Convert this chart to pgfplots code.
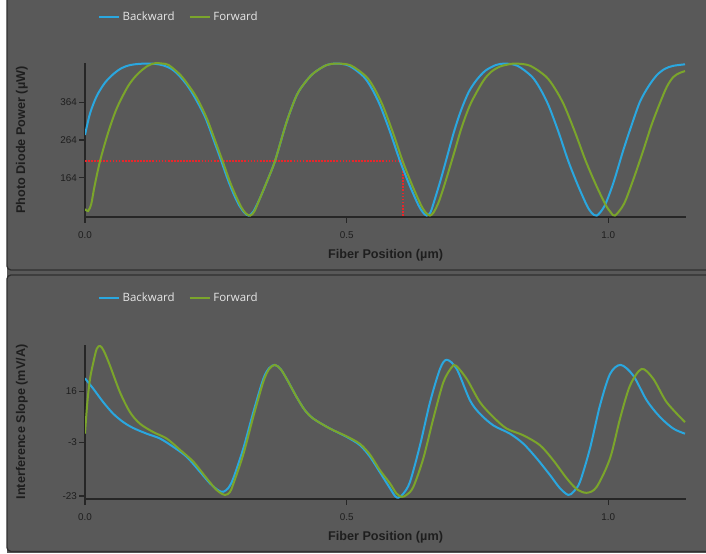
\documentclass[border=0pt]{standalone}
\usepackage{pgfplots}
\pgfplotsset{compat=1.18}
\usepackage{fontspec}
\setmainfont{Liberation Sans}
\newfontfamily\legfont{Open Sans}
\definecolor{bg}{HTML}{595959}
\definecolor{blueline}{HTML}{2AA7DF}
\definecolor{greenline}{HTML}{7BA52B}
\definecolor{redline}{HTML}{E8262B}
\definecolor{axisc}{HTML}{262626}
\definecolor{tickc}{HTML}{1E1E1E}
\definecolor{labelc}{HTML}{1E1E1E}
\definecolor{legc}{HTML}{E6E6E6}
\definecolor{borderc}{HTML}{303030}
\pgfplotsset{
  myaxis/.style={
    scale only axis, width=450.75pt, height=115.5pt,
    xmin=0, xmax=1.1485,
    axis x line=bottom, axis y line=left,
    axis line style={-, color=axisc, line width=1.1pt},
    tick align=outside, major tick length=4.5pt,
    every tick/.style={color=axisc, line width=0.9pt},
    xtick={0,0.5,1}, xticklabels={0.0,0.5,1.0},
    ticklabel style={font=\fontsize{7.4}{8}\selectfont, text=tickc},
    xticklabel style={yshift=-3pt},
    yticklabel style={xshift=2pt},
    label style={font=\fontsize{9.5}{11}\selectfont\bfseries, text=labelc},
    xlabel={Fiber Position (µm)},
    xlabel style={at={(axis description cs:0.5,-0.247)}, anchor=center},
    ylabel style={at={(axis description cs:-0.105,0.5)}, anchor=center},
    legend style={at={(axis description cs:0.0216,1.2987)}, anchor=west,
      draw=none, fill=none, inner sep=0pt, outer sep=0pt,
      font=\legfont\fontsize{8.6}{10}\selectfont, text=legc,
      /tikz/every even column/.append style={column sep=8.5pt}},
    legend columns=2,
    legend image code/.code={\draw[#1, line width=1.5pt] (0pt,0pt) -- (15pt,0pt);},
  },
  bl/.style={color=blueline, line width=1.5pt, smooth, tension=0.5},
  gr/.style={color=greenline, line width=1.5pt, smooth, tension=0.5},
}
\begin{document}
\begin{tikzpicture}[x=0.75pt,y=0.75pt]
\useasboundingbox (0,0) rectangle (706,553);
\fill[white] (0,0) rectangle (706,553);
\fill[bg] (7,0) rectangle (706,553);
\draw[borderc, line width=1pt, rounded corners=3pt] (7,553) -- (7,283) -- (706,283);
\draw[borderc, line width=1pt, rounded corners=3pt] (706,278) -- (7,278) -- (7,1.5) -- (706,1.5);

\begin{axis}[myaxis, at={(63.75pt,252pt)}, anchor=south west,
  ymin=60.2, ymax=467.5,
  ytick={164,264,364}, yticklabels={164,264,364},
  ylabel={Photo Diode Power (µW)}]
\addplot[redline, line width=1.3pt, dash pattern=on 1.3pt off 1pt, forget plot]
  coordinates {(0,208) (0.608,208) (0.608,60.2)};
\addplot[bl] coordinates {
(0,277)(0.0096,334)(0.0224,380)(0.038,415)(0.054,438)(0.07,454)(0.086,462)(0.102,465)(0.118,466)(0.135,465)(0.15,461)(0.165,452)(0.178,437)(0.195,409)(0.21,376)(0.23,323)(0.249,252)(0.26,210)(0.274,155)(0.285,118)(0.295,90)(0.305,71)(0.313,64)(0.322,75)(0.3344,110)(0.348,155)(0.363,208)(0.3854,312)(0.4045,382)(0.42,415)(0.4363,440)(0.46,461)(0.481,466)(0.505,460)(0.532,432)(0.548,400)(0.5637,356)(0.5828,286)(0.602,208)(0.62,145)(0.637,92)(0.646,72)(0.653,64)(0.66,72)(0.668,105)(0.68,160)(0.692,220)(0.705,285)(0.718,340)(0.733,390)(0.748,422)(0.765,447)(0.785,462)(0.8026,466)(0.8266,460)(0.8536,432)(0.8696,400)(0.8856,356)(0.9046,286)(0.9236,208)(0.9416,145)(0.9586,92)(0.9676,72)(0.978,64)(0.993,90)(1.0096,150)(1.0287,237)(1.045,305)(1.0605,365)(1.0765,405)(1.0925,435)(1.108,452)(1.124,460)(1.1466,464)
};
\addplot[gr] coordinates {
(0,81)(0.006,76)(0.012,95)(0.018,140)(0.0287,208)(0.0446,285)(0.0605,347)(0.0797,400)(0.092,425)(0.105,444)(0.12,460)(0.134,467)(0.148,466)(0.16,462)(0.1815,437)(0.197,410)(0.2134,376)(0.2325,322)(0.2516,251)(0.263,208)(0.277,153)(0.288,117)(0.298,88)(0.307,70)(0.316,64)(0.324,76)(0.3344,110)(0.348,155)(0.363,208)(0.3854,312)(0.4045,382)(0.42,415)(0.4363,440)(0.46,461)(0.481,466)(0.508,461)(0.537,432)(0.553,400)(0.5687,356)(0.5878,286)(0.607,208)(0.625,145)(0.642,92)(0.651,72)(0.659,64)(0.666,72)(0.676,100)(0.688,150)(0.705,228)(0.72,298)(0.737,360)(0.761,420)(0.777,445)(0.793,458)(0.81,464)(0.825,466)(0.851,460)(0.8806,432)(0.898,400)(0.9155,356)(0.936,286)(0.957,208)(0.9765,145)(0.995,92)(1.005,72)(1.0128,64)(1.03,95)(1.048,160)(1.067,237)(1.083,305)(1.0988,362)(1.112,405)(1.124,430)(1.136,441)(1.1466,446)
};
\legend{Backward, Forward}
\end{axis}

\begin{axis}[myaxis, at={(63.75pt,40.5pt)}, anchor=south west,
  ymin=-24.1, ymax=33.2,
  ytick={-23,-3,16}, yticklabels={-23,-3,16},
  ylabel={Interference Slope (mV/A)},
  legend style={at={(axis description cs:0.0216,1.305)}}]
\addplot[bl] coordinates {
(0,20.8)(0.0159,16.9)(0.035,11.9)(0.0541,7.6)(0.0732,4.5)(0.0923,2.3)(0.1179,0.2)(0.1433,-1.6)(0.1687,-4.7)(0.1943,-8.4)(0.2198,-14)(0.2389,-18.3)(0.255,-20.9)(0.2643,-21.4)(0.274,-20)(0.2834,-16.4)(0.3025,-5.3)(0.3216,8.2)(0.3407,20.6)(0.352,24.6)(0.3631,25.8)(0.374,24.2)(0.3854,20.6)(0.4045,13.8)(0.42,9)(0.4363,5.8)(0.4682,2.1)(0.5001,-1.0)(0.5255,-4.1)(0.5446,-8.4)(0.5637,-14.2)(0.5828,-20.1)(0.5925,-23)(0.5987,-23.6)(0.608,-22.2)(0.6211,-17.7)(0.6402,-4.1)(0.6593,11.9)(0.6784,24.3)(0.6912,27.7)(0.7103,24.3)(0.7357,12.6)(0.7548,7.6)(0.7802,3.3)(0.8121,0.2)(0.8376,-3.5)(0.8632,-9.0)(0.8886,-15.2)(0.9077,-20.1)(0.9236,-22.6)(0.934,-21.3)(0.9459,-17.7)(0.965,-5.3)(0.9841,10.7)(1.0033,22.4)(1.0237,25.8)(1.0478,21.8)(1.0734,12.6)(1.0988,6.4)(1.1242,2.1)(1.1466,0.2)
};
\addplot[gr] coordinates {
(0,0.2)(0.0045,11.9)(0.0096,20.6)(0.0159,26.7)(0.0223,31.7)(0.0287,32.9)(0.036,31)(0.0478,25.5)(0.0669,15.6)(0.086,8.2)(0.1051,3.9)(0.1305,0.8)(0.1561,-1.6)(0.1815,-5.8)(0.207,-10.2)(0.2325,-16.4)(0.2517,-20.8)(0.2675,-22.6)(0.277,-21.5)(0.2834,-18.5)(0.3025,-7.5)(0.3216,6.5)(0.3407,19.5)(0.352,24.3)(0.3631,25.8)(0.374,24.2)(0.3854,20.6)(0.4045,13.8)(0.42,9)(0.4363,5.8)(0.4682,2.1)(0.5001,-0.8)(0.5255,-3.6)(0.5446,-7.6)(0.5637,-13.4)(0.5828,-18.3)(0.595,-22)(0.6052,-23.3)(0.615,-22.5)(0.6274,-19.6)(0.6465,-9.0)(0.6656,5.8)(0.6847,19.3)(0.7007,24.9)(0.709,25.5)(0.7294,20.6)(0.7548,11.9)(0.7802,6.4)(0.8058,2.1)(0.8376,-0.4)(0.8695,-4.1)(0.8949,-9.7)(0.9205,-16.4)(0.9396,-20.4)(0.9587,-21.8)(0.9778,-19.6)(1.0033,-9.0)(1.0224,5.8)(1.0415,18.1)(1.0638,24.3)(1.086,20.6)(1.1116,11.9)(1.1466,4.5)
};
\legend{Backward, Forward}
\end{axis}
\end{tikzpicture}
\end{document}
